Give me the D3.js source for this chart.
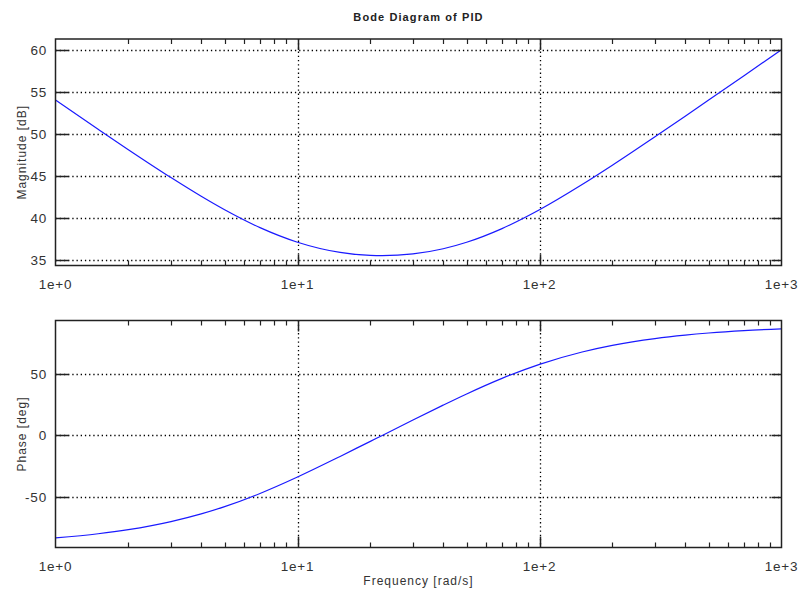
<!DOCTYPE html>
<html>
<head>
<meta charset="utf-8">
<script src="https://cdn.jsdelivr.net/npm/d3@7"></script>
<style>
  body { margin: 0; background: #fff; }
  text { font-family: "Liberation Sans", Arial, sans-serif; fill: #333; }
</style>
</head>
<body>
<div id="chart"></div>
<script>
// values
var freq = [1, 1.5, 2, 3, 4, 5, 7, 10, 15, 20, 22.4, 30, 40, 50, 70, 100, 150, 200, 300, 400, 500, 700, 1000];
var magnitude = [54.02, 50.56, 48.14, 44.83, 42.61, 41.01, 38.89, 37.16, 35.95, 35.59, 35.56, 35.77, 36.39, 37.16, 38.78, 41.01, 44.00, 46.29, 49.67, 52.11, 54.02, 56.92, 60.01];
var phase = [-83.14, -79.75, -76.40, -69.87, -63.63, -57.72, -47.03, -33.69, -16.99, -4.76, 0, 12.53, 24.62, 33.69, 46.33, 57.72, 67.75, 73.10, 78.63, 81.44, 83.14, 85.10, 86.56];
var decades = [1, 10, 100, 1000];
var decadeLabels = ["1e+0", "1e+1", "1e+2", "1e+3"];
var magTicks = [35, 40, 45, 50, 55, 60];
var phaseTicks = [-50, 0, 50];

var W = 800, H = 589;
var svg = d3.select("#chart").append("svg").attr("width", W).attr("height", H);

var x = d3.scaleLog().domain([1, 1000]).range([55.5, 781.5]);

// minor ticks 2..9 in each decade
var minor = [];
decades.slice(0, 3).forEach(function (d) {
    for (var k = 2; k <= 9; k++) minor.push(d * k);
});

svg.append("text")
    .attr("x", 418.5).attr("y", 21)
    .attr("text-anchor", "middle")
    .style("font-size", "11px").style("letter-spacing", "1.1px").style("font-weight", "bold")
    .style("fill", "#222")
    .text("Bode Diagram of PID");

function panel(top, bottom, domain, ticks, values, ylabel) {
    var y = d3.scaleLinear().domain(domain).range([bottom, top]);
    var g = svg.append("g");
    var x0 = x.range()[0], x1 = x.range()[1];

    // grid
    g.selectAll(".hg").data(ticks).enter().append("line")
        .attr("x1", x0).attr("x2", x1)
        .attr("y1", function (d) { return Math.round(y(d)) + 0.5; })
        .attr("y2", function (d) { return Math.round(y(d)) + 0.5; })
        .attr("stroke", "#000").attr("stroke-width", 1.3).attr("stroke-dasharray", "1.3,2.9");
    g.selectAll(".vg").data(decades.slice(1, 3)).enter().append("line")
        .attr("x1", function (d) { return Math.round(x(d)) + 0.5; })
        .attr("x2", function (d) { return Math.round(x(d)) + 0.5; })
        .attr("y1", top).attr("y2", bottom)
        .attr("stroke", "#000").attr("stroke-width", 1.3).attr("stroke-dasharray", "1.3,2.9");

    // curve
    var line = d3.line()
        .x(function (d, i) { return x(freq[i]); })
        .y(function (d) { return y(d); })
        .curve(d3.curveMonotoneX);
    g.append("path").datum(values)
        .attr("d", line)
        .attr("fill", "none").attr("stroke", "#1a1aff").attr("stroke-width", 1.2);

    // frame
    g.append("rect")
        .attr("x", x0).attr("y", top).attr("width", x1 - x0).attr("height", bottom - top)
        .attr("fill", "none").attr("stroke", "#222").attr("stroke-width", 1.5);

    // y ticks (left + right, inward)
    g.selectAll(".yl").data(ticks).enter().append("line")
        .attr("x1", x0).attr("x2", x0 + 13)
        .attr("y1", function (d) { return Math.round(y(d)) + 0.5; })
        .attr("y2", function (d) { return Math.round(y(d)) + 0.5; })
        .attr("stroke", "#222").attr("stroke-width", 1.5);
    g.selectAll(".yr").data(ticks).enter().append("line")
        .attr("x1", x1 - 10).attr("x2", x1)
        .attr("y1", function (d) { return Math.round(y(d)) + 0.5; })
        .attr("y2", function (d) { return Math.round(y(d)) + 0.5; })
        .attr("stroke", "#222").attr("stroke-width", 1.5);
    g.selectAll(".ylab").data(ticks).enter().append("text")
        .attr("x", 47).attr("y", function (d) { return y(d) + 5; })
        .attr("text-anchor", "end")
        .style("font-size", "13.5px").style("letter-spacing", "0.8px")
        .text(function (d) { return d; });

    // x ticks top and bottom
    [top, bottom].forEach(function (yy) {
        var dir = yy === top ? 1 : -1;
        g.selectAll(null).data(minor).enter().append("line")
            .attr("x1", function (d) { return Math.round(x(d)) + 0.5; })
            .attr("x2", function (d) { return Math.round(x(d)) + 0.5; })
            .attr("y1", yy).attr("y2", yy + dir * 5)
            .attr("stroke", "#222").attr("stroke-width", 1.2);
        g.selectAll(null).data(decades.slice(1, 3)).enter().append("line")
            .attr("x1", function (d) { return Math.round(x(d)) + 0.5; })
            .attr("x2", function (d) { return Math.round(x(d)) + 0.5; })
            .attr("y1", yy).attr("y2", yy + dir * 11)
            .attr("stroke", "#222").attr("stroke-width", 1.5);
    });
    g.selectAll(".xlab").data(decades).enter().append("text")
        .attr("x", function (d) { return x(d); })
        .attr("y", bottom + 23.5)
        .attr("text-anchor", "middle")
        .style("font-size", "13.5px").style("letter-spacing", "0.8px")
        .text(function (d, i) { return decadeLabels[i]; });

    g.append("text")
        .attr("transform", "translate(26," + ((top + bottom) / 2) + ") rotate(-90)")
        .attr("text-anchor", "middle")
        .style("font-size", "12px").style("letter-spacing", "1px")
        .text(ylabel);
}

panel(39, 265.5, [34.4, 61.27], magTicks, magnitude, "Magnitude [dB]");
panel(320.5, 547.5, [-90.9, 93.3], phaseTicks, phase, "Phase [deg]");

svg.append("text")
    .attr("x", 418.5).attr("y", 585)
    .attr("text-anchor", "middle")
    .style("font-size", "12px").style("letter-spacing", "1px")
    .text("Frequency [rad/s]");
</script>
</body>
</html>
